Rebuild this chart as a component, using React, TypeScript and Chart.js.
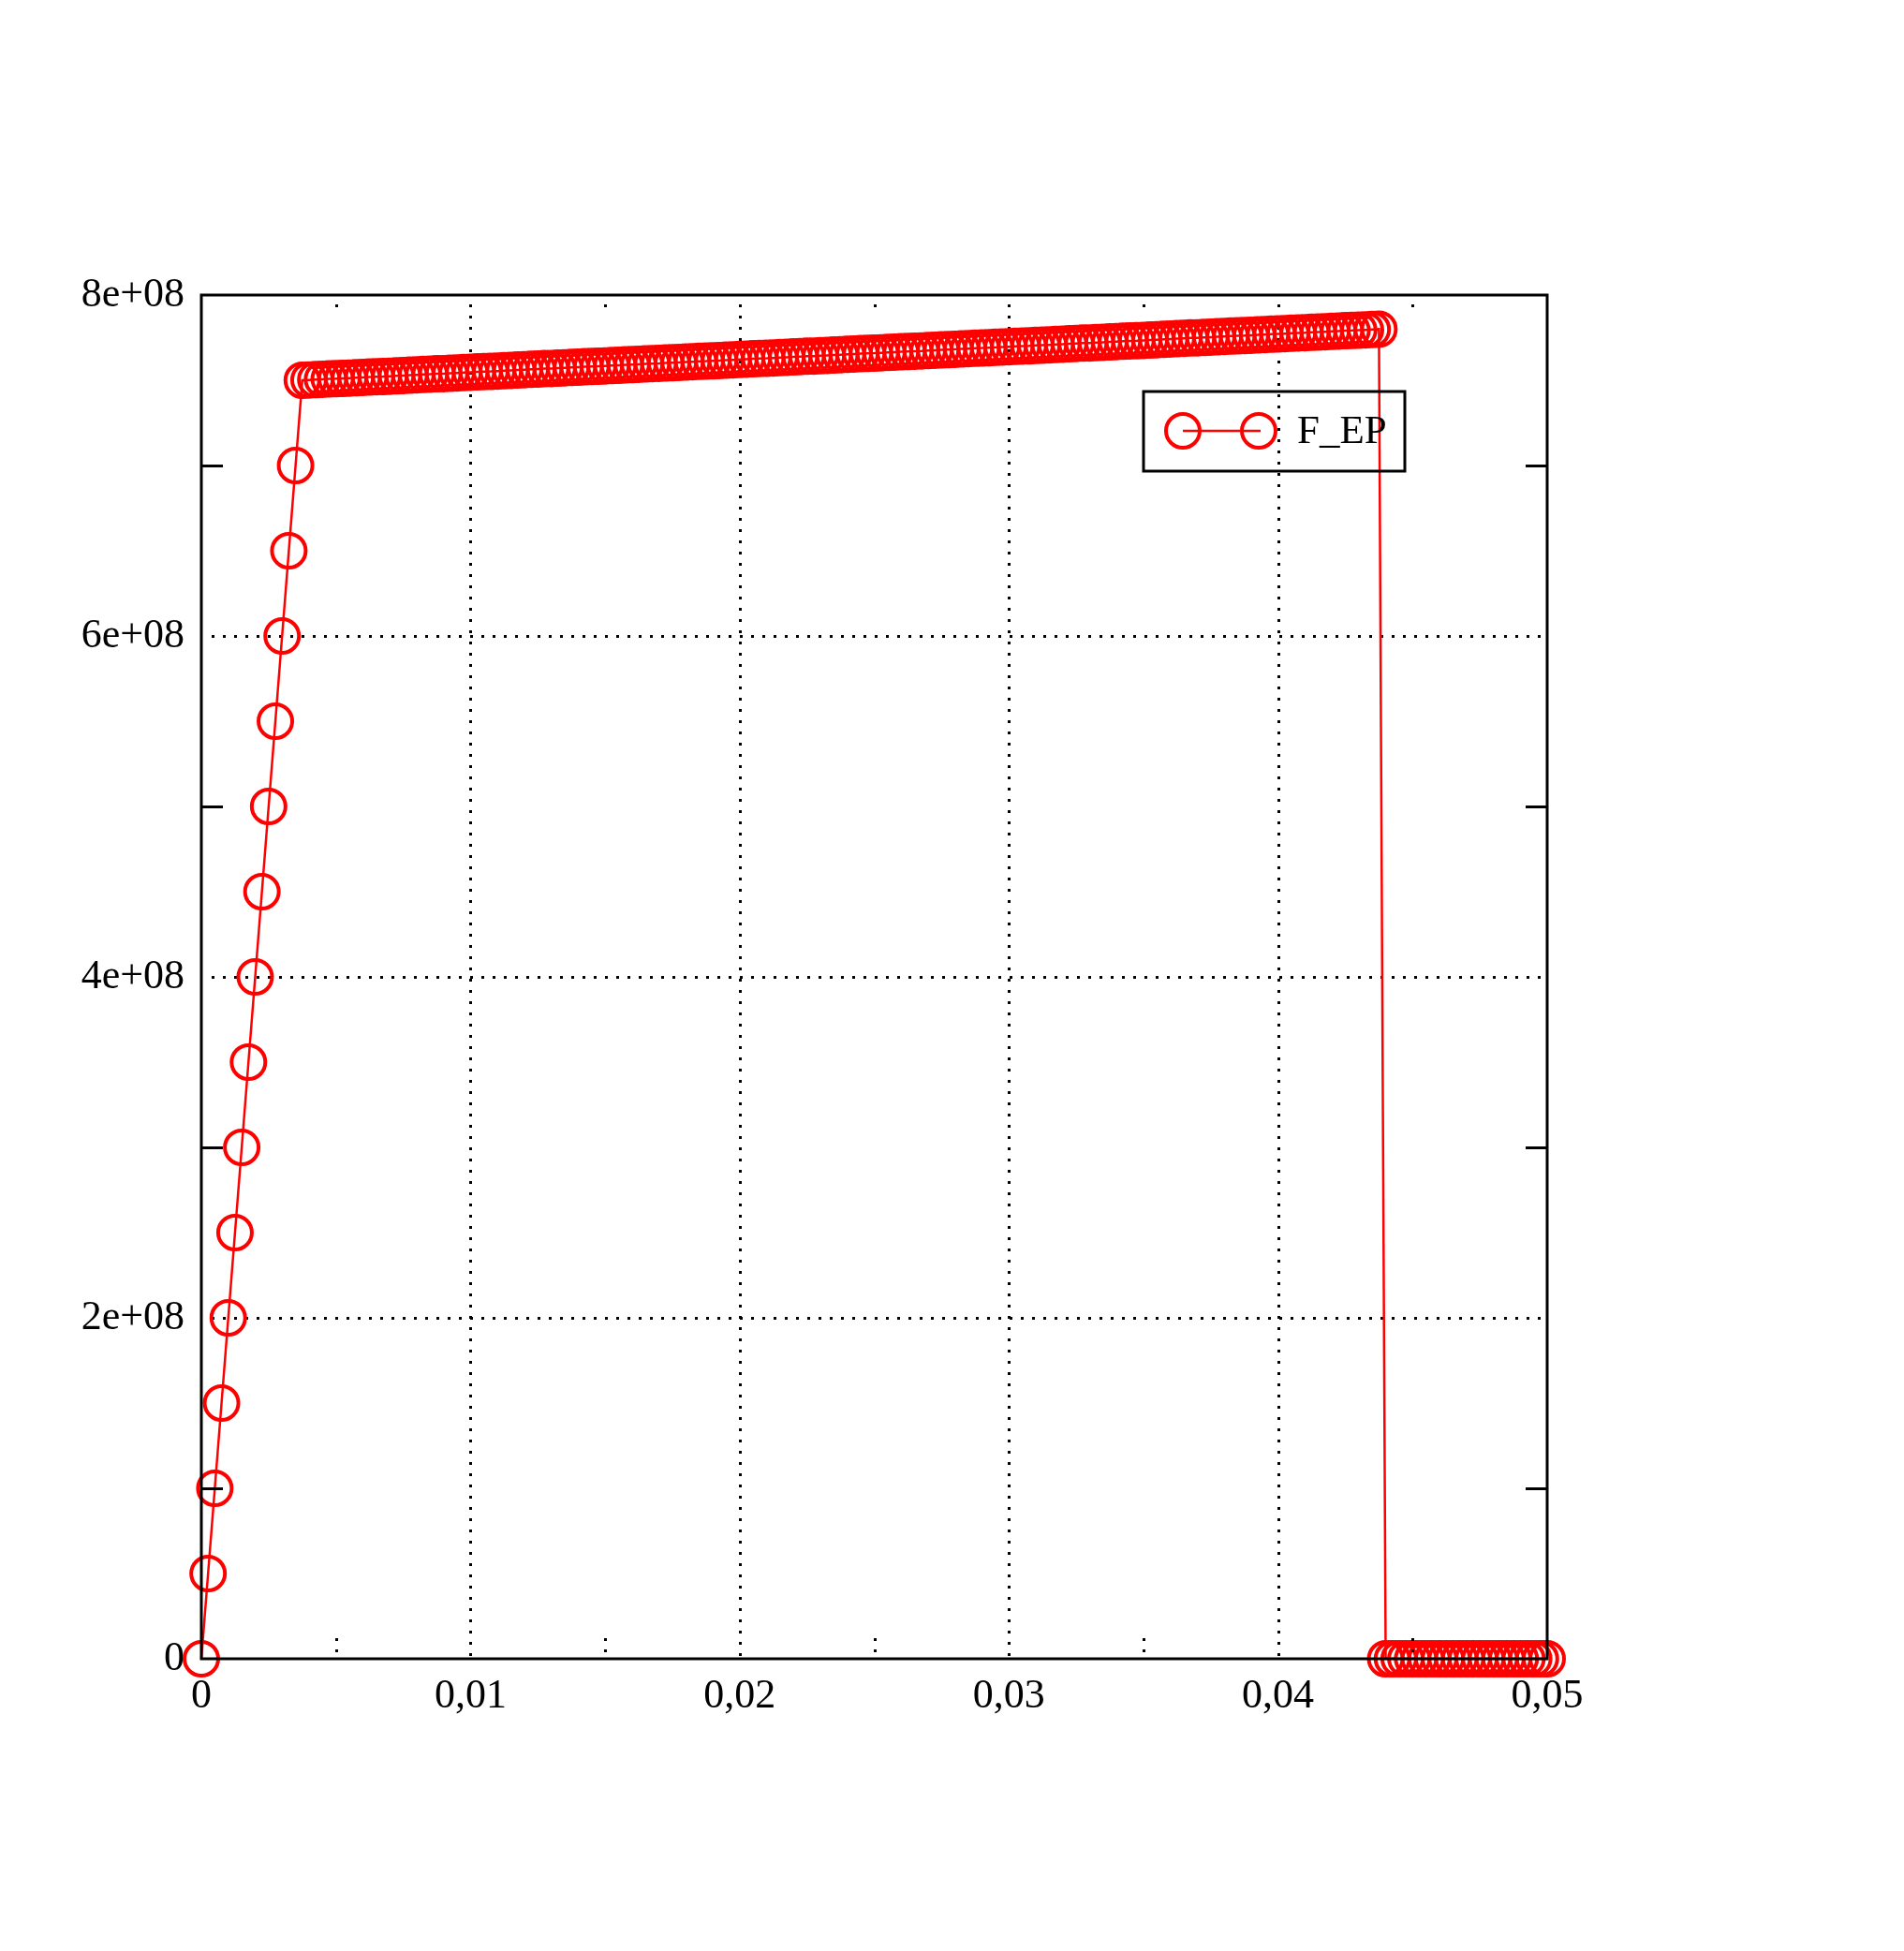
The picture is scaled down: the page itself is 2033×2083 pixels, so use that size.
import React, { useEffect, useRef } from "react";
import { Chart, registerables } from "chart.js";

Chart.register(...registerables);

const W = 2033;
const H = 2083;

// strain in units of 1e-3, stress in units of 1e6
const elasticStrain = [0, 0.25, 0.5, 0.75, 1, 1.25, 1.5, 1.75, 2, 2.25, 2.5, 2.75, 3, 3.25, 3.5];
const elasticStress = [0, 50, 100, 150, 200, 250, 300, 350, 400, 450, 500, 550, 600, 650, 700];

const plasticStrain = [
  3.75, 4, 4.25, 4.5, 4.75, 5, 5.25, 5.5, 5.75, 6, 6.25, 6.5, 6.75, 7, 7.25, 7.5,
  7.75, 8, 8.25, 8.5, 8.75, 9, 9.25, 9.5, 9.75, 10, 10.25, 10.5, 10.75, 11, 11.25, 11.5,
  11.75, 12, 12.25, 12.5, 12.75, 13, 13.25, 13.5, 13.75, 14, 14.25, 14.5, 14.75, 15, 15.25, 15.5,
  15.75, 16, 16.25, 16.5, 16.75, 17, 17.25, 17.5, 17.75, 18, 18.25, 18.5, 18.75, 19, 19.25, 19.5,
  19.75, 20, 20.25, 20.5, 20.75, 21, 21.25, 21.5, 21.75, 22, 22.25, 22.5, 22.75, 23, 23.25, 23.5,
  23.75, 24, 24.25, 24.5, 24.75, 25, 25.25, 25.5, 25.75, 26, 26.25, 26.5, 26.75, 27, 27.25, 27.5,
  27.75, 28, 28.25, 28.5, 28.75, 29, 29.25, 29.5, 29.75, 30, 30.25, 30.5, 30.75, 31, 31.25, 31.5,
  31.75, 32, 32.25, 32.5, 32.75, 33, 33.25, 33.5, 33.75, 34, 34.25, 34.5, 34.75, 35, 35.25, 35.5,
  35.75, 36, 36.25, 36.5, 36.75, 37, 37.25, 37.5, 37.75, 38, 38.25, 38.5, 38.75, 39, 39.25, 39.5,
  39.75, 40, 40.25, 40.5, 40.75, 41, 41.25, 41.5, 41.75, 42, 42.25, 42.5, 42.75, 43, 43.25, 43.5,
  43.75,
];
const plasticStress = [
  750, 750.2, 750.4, 750.6, 750.8, 750.9, 751.1, 751.3, 751.5, 751.7, 751.9, 752.1, 752.2, 752.4, 752.6, 752.8,
  753, 753.2, 753.4, 753.6, 753.8, 753.9, 754.1, 754.3, 754.5, 754.7, 754.9, 755.1, 755.2, 755.4, 755.6, 755.8,
  756, 756.2, 756.4, 756.6, 756.8, 756.9, 757.1, 757.3, 757.5, 757.7, 757.9, 758.1, 758.2, 758.4, 758.6, 758.8,
  759, 759.2, 759.4, 759.6, 759.8, 759.9, 760.1, 760.3, 760.5, 760.7, 760.9, 761.1, 761.2, 761.4, 761.6, 761.8,
  762, 762.2, 762.4, 762.6, 762.8, 762.9, 763.1, 763.3, 763.5, 763.7, 763.9, 764.1, 764.2, 764.4, 764.6, 764.8,
  765, 765.2, 765.4, 765.6, 765.8, 765.9, 766.1, 766.3, 766.5, 766.7, 766.9, 767.1, 767.2, 767.4, 767.6, 767.8,
  768, 768.2, 768.4, 768.6, 768.8, 768.9, 769.1, 769.3, 769.5, 769.7, 769.9, 770.1, 770.2, 770.4, 770.6, 770.8,
  771, 771.2, 771.4, 771.6, 771.8, 771.9, 772.1, 772.3, 772.5, 772.7, 772.9, 773.1, 773.2, 773.4, 773.6, 773.8,
  774, 774.2, 774.4, 774.6, 774.8, 774.9, 775.1, 775.3, 775.5, 775.7, 775.9, 776.1, 776.2, 776.4, 776.6, 776.8,
  777, 777.2, 777.4, 777.6, 777.8, 777.9, 778.1, 778.3, 778.5, 778.7, 778.9, 779.1, 779.2, 779.4, 779.6, 779.8,
  780,
];

const failedStrain = [
  44, 44.25, 44.5, 44.75, 45, 45.25, 45.5, 45.75, 46, 46.25, 46.5, 46.75, 47,
  47.25, 47.5, 47.75, 48, 48.25, 48.5, 48.75, 49, 49.25, 49.5, 49.75, 50,
];
const failedStress = [
  0, 0, 0, 0, 0, 0, 0, 0, 0, 0, 0, 0, 0, 0, 0, 0, 0, 0, 0, 0, 0, 0, 0, 0, 0,
];

const seriesLabel = "F_EP";
const xMin = 0;
const xMax = 0.05;
const xStep = 0.01;
const yMin = 0;
const yMax = 8e8;
const yStep = 2e8;
const xGridValues = [0.01, 0.02, 0.03, 0.04];
const yGridValues = [2e8, 4e8, 6e8];
const xMinorTicks = [0.005, 0.015, 0.025, 0.035, 0.045];
const yMinorTicks = [1e8, 3e8, 5e8, 7e8];

const FONT = "'Liberation Serif', 'Times New Roman', serif";
const TICK_FONT_SIZE = 44;
const LEGEND_FONT_SIZE = 43;
const RED = "#ff0000";

function fmtX(v: number): string {
  if (Math.abs(v) < 1e-12) return "0";
  return v.toFixed(2).replace(".", ",");
}
function fmtY(v: number): string {
  if (Math.abs(v) < 1e-3) return "0";
  const exp = Math.floor(Math.log10(Math.abs(v)) + 1e-9);
  const mant = v / Math.pow(10, exp);
  const e = String(Math.abs(exp)).padStart(2, "0");
  return `${Math.round(mant)}e${exp >= 0 ? "+" : "-"}${e}`;
}

const framePlugin = {
  id: "gnuplotFrame",
  beforeDatasetsDraw(chart: any) {
    const { ctx, chartArea: a, scales } = chart;
    const xs = scales.x;
    const ys = scales.y;
    ctx.save();
    ctx.strokeStyle = "#000";
    ctx.lineWidth = 3;
    ctx.setLineDash([3, 9]);
    for (const v of xGridValues) {
      const px = Math.round(xs.getPixelForValue(v)) + 0.5;
      ctx.beginPath();
      ctx.moveTo(px, a.top + 10);
      ctx.lineTo(px, a.bottom);
      ctx.stroke();
    }
    for (const v of yGridValues) {
      const py = Math.round(ys.getPixelForValue(v)) + 0.5;
      ctx.beginPath();
      ctx.moveTo(a.left + 11, py);
      ctx.lineTo(a.right, py);
      ctx.stroke();
      ctx.lineDashOffset = 6;
      ctx.beginPath();
      ctx.moveTo(a.right - 28, py);
      ctx.lineTo(a.right, py);
      ctx.stroke();
      ctx.lineDashOffset = 0;
    }
    ctx.restore();
  },
  afterDatasetsDraw(chart: any) {
    const { ctx, chartArea: a, scales } = chart;
    const xs = scales.x;
    const ys = scales.y;
    ctx.save();
    ctx.strokeStyle = "#000";
    ctx.lineWidth = 3;
    ctx.setLineDash([3, 9]);
    for (const v of xMinorTicks) {
      const px = Math.round(xs.getPixelForValue(v)) + 0.5;
      ctx.beginPath();
      ctx.moveTo(px, a.top + 10);
      ctx.lineTo(px, a.top + 22);
      ctx.stroke();
      ctx.beginPath();
      ctx.moveTo(px, a.bottom - 22);
      ctx.lineTo(px, a.bottom - 5);
      ctx.stroke();
    }
    ctx.setLineDash([]);
    for (const v of yMinorTicks) {
      const py = Math.round(ys.getPixelForValue(v)) + 0.5;
      ctx.beginPath();
      ctx.moveTo(a.left, py);
      ctx.lineTo(a.left + 23, py);
      ctx.moveTo(a.right, py);
      ctx.lineTo(a.right - 23, py);
      ctx.stroke();
    }
    ctx.strokeRect(a.left, a.top, a.right - a.left, a.bottom - a.top);

    // legend
    const lx = a.left + 1006;
    const ly = a.top + 103;
    const lw = 279;
    const lh = 85;
    ctx.lineWidth = 3;
    ctx.strokeStyle = "#000";
    ctx.strokeRect(lx, ly, lw, lh);
    const cy = ly + 42;
    ctx.strokeStyle = RED;
    ctx.lineWidth = 2.5;
    ctx.beginPath();
    ctx.moveTo(lx + 42, cy);
    ctx.lineTo(lx + 125, cy);
    ctx.stroke();
    ctx.lineWidth = 4;
    for (const cx of [lx + 42, lx + 123]) {
      ctx.beginPath();
      ctx.arc(cx, cy, 18, 0, Math.PI * 2);
      ctx.stroke();
    }
    ctx.fillStyle = "#000";
    ctx.font = `${LEGEND_FONT_SIZE}px ${FONT}`;
    ctx.textAlign = "left";
    ctx.textBaseline = "alphabetic";
    ctx.fillText(seriesLabel, lx + 164, ly + 55);
    ctx.restore();
  },
};

export default function App() {
  const canvasRef = useRef<HTMLCanvasElement | null>(null);

  useEffect(() => {
    document.body.style.margin = "0";
    const canvas = canvasRef.current;
    if (!canvas) return;

    const toPoints = (s: number[], f: number[]) =>
      s.map((v, i) => ({ x: v * 1e-3, y: f[i] * 1e6 }));
    const data = [
      ...toPoints(elasticStrain, elasticStress),
      ...toPoints(plasticStrain, plasticStress),
      ...toPoints(failedStrain, failedStress),
    ];

    const chart = new Chart(canvas, {
      type: "line",
      data: {
        datasets: [
          {
            label: seriesLabel,
            data,
            borderColor: RED,
            backgroundColor: "rgba(0,0,0,0)",
            borderWidth: 2.5,
            pointRadius: 18,
            pointBorderWidth: 4,
            pointBorderColor: RED,
            pointBackgroundColor: "rgba(0,0,0,0)",
            pointStyle: "circle",
            tension: 0,
            clip: false as any,
          },
        ],
      },
      plugins: [framePlugin],
      options: {
        responsive: false,
        animation: false,
        devicePixelRatio: 1,
        parsing: false as any,
        layout: { padding: { top: 315, right: 381, bottom: 0, left: 0 } },
        plugins: {
          legend: { display: false },
          tooltip: { enabled: false },
        },
        scales: {
          x: {
            type: "linear",
            min: xMin,
            max: xMax,
            grid: { display: false, drawTicks: false },
            border: { display: false },
            afterFit: (scale: any) => {
              scale.height = 312;
            },
            ticks: {
              stepSize: xStep,
              padding: 14,
              color: "#000",
              font: { family: FONT, size: TICK_FONT_SIZE },
              callback: (v: any) => fmtX(Number(v)),
              maxRotation: 0,
              autoSkip: false,
            },
          },
          y: {
            type: "linear",
            min: yMin,
            max: yMax,
            grid: { display: false, drawTicks: false },
            border: { display: false },
            afterFit: (scale: any) => {
              scale.width = 215;
            },
            ticks: {
              stepSize: yStep,
              padding: 18,
              color: "#000",
              font: { family: FONT, size: TICK_FONT_SIZE },
              callback: (v: any) => fmtY(Number(v)),
              autoSkip: false,
            },
          },
        },
      },
    });
    return () => chart.destroy();
  }, []);

  return (
    <div style={{ position: "absolute", left: 0, top: 0, width: W, height: H, background: "#fff" }}>
      <canvas ref={canvasRef} width={W} height={H} style={{ width: W, height: H, display: "block" }} />
    </div>
  );
}
